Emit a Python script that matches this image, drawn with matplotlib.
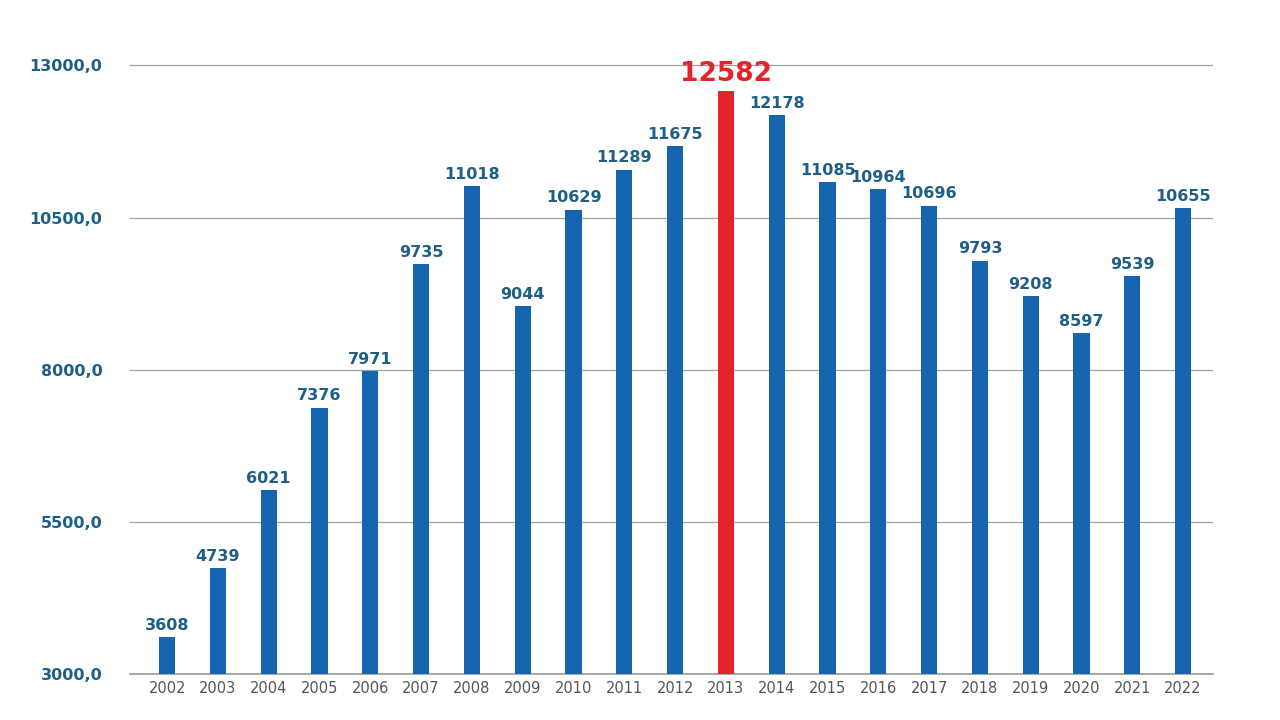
import matplotlib.pyplot as plt

# données
annees = [str(a) for a in range(2002, 2023)]
valeurs = [3608, 4739, 6021, 7376, 7971, 9735, 11018, 9044, 10629, 11289,
           11675, 12582, 12178, 11085, 10964, 10696, 9793, 9208, 8597, 9539, 10655]
graduations = [3000, 5500, 8000, 10500, 13000]
annee_max = '2013'

bleu = '#1565b0'
rouge = '#e3242b'
texte_bleu = '#1d5f86'

plt.rcParams['font.family'] = ['DejaVu Sans']

fig = plt.figure(figsize=(12.8, 7.2), dpi=100)
ax = fig.add_axes([0.1016, 0.0639, 0.8461, 0.8528])

couleurs = [rouge if a == annee_max else bleu for a in annees]
x = range(len(annees))
ax.bar(x, [v - 3000 for v in valeurs], bottom=3000, width=0.32, color=couleurs, zorder=3)

# étiquettes des valeurs
for i, v in enumerate(valeurs):
    if annees[i] == annee_max:
        ax.text(i, v + 60, str(v), ha='center', va='bottom', color=rouge,
                fontsize=19, fontweight='bold')
    else:
        ax.text(i, v + 70, str(v), ha='center', va='bottom', color=texte_bleu,
                fontsize=11.5, fontweight='bold')

ax.set_ylim(3000, 13090)
ax.set_xlim(-0.73, len(annees) - 1 + 0.59)
ax.set_yticks(graduations)
ax.set_yticklabels([f'{g},0' for g in graduations], color=texte_bleu,
                   fontsize=11.5, fontweight='bold')
ax.set_xticks(list(x))
ax.set_xticklabels(annees, color='#555555', fontsize=10.5)
ax.tick_params(axis='y', length=0, pad=20)
ax.tick_params(axis='x', length=0, pad=5)

ax.grid(axis='y', color='#a0a0a0', linewidth=0.9, zorder=0)
for s in ['top', 'right', 'left']:
    ax.spines[s].set_visible(False)
ax.spines['bottom'].set_color('#9a9a9a')
ax.spines['bottom'].set_linewidth(1.2)

fig.savefig('out.png', dpi=100)
